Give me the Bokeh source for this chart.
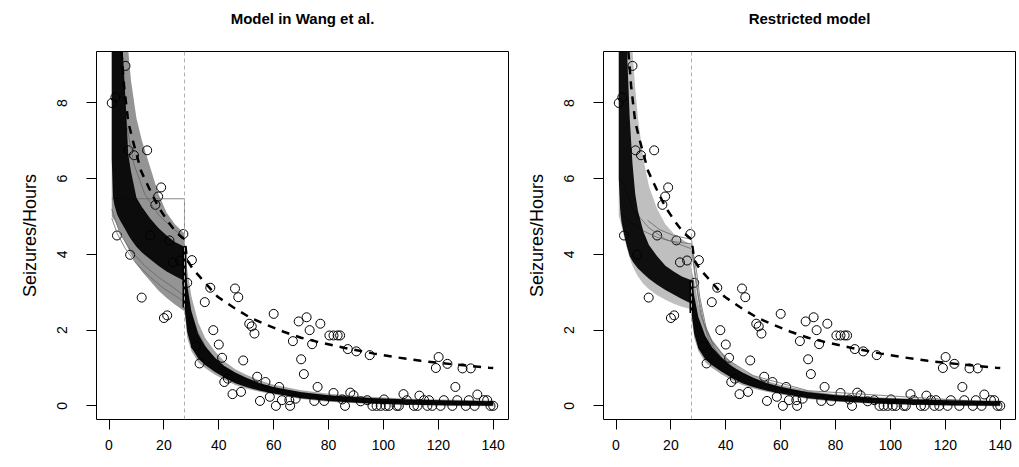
from bokeh.plotting import figure
from bokeh.layouts import row
from bokeh.models import Span, Title
from bokeh.embed import file_html
from bokeh.resources import INLINE

# ---------------- data ----------------
OBS_X = [1.0, 2.3, 6.0, 7.1, 9.1, 13.9, 19.0, 17.9, 16.9, 2.9, 15.0, 22.0, 27.1, 7.7, 11.9, 20.0, 21.2,
         23.3, 25.9, 28.5, 30.2, 36.9, 45.9, 47.1, 34.9, 38.0, 31.7, 40.0, 41.2, 33.0, 48.9, 51.1, 52.0,
         53.0, 60.0, 42.0, 43.3, 45.0, 48.1, 54.0, 57.0, 55.0, 58.6, 60.8, 62.0, 63.0, 65.7, 66.0, 68.0,
         67.0, 69.1, 70.0, 71.0, 72.0, 73.1, 74.0, 74.8, 76.0, 77.0, 78.4, 80.3, 81.8, 83.3, 84.2, 81.8,
         85.0, 86.0, 87.0, 87.9, 89.1, 90.1, 91.7, 94.1, 95.0, 96.0, 97.5, 99.0, 100.2, 100.8, 102.0,
         104.8, 105.6, 107.3, 108.5, 111.1, 112.4, 113.1, 114.8, 116.0, 116.6, 117.8, 119.1, 120.1, 120.8,
         122.0, 123.3, 125.1, 126.2, 126.9, 128.8, 130.0, 131.1, 131.8, 133.2, 134.2, 136.6, 137.8, 139.0,
         140.0]
OBS_Y = [8.00, 8.15, 8.98, 6.75, 6.62, 6.75, 5.77, 5.53, 5.31, 4.50, 4.50, 4.37, 4.54, 3.99, 2.86, 2.32, 2.39,
         3.79, 3.84, 3.25, 3.85, 3.12, 3.10, 2.87, 2.74, 2.00, 1.58, 1.62, 1.27, 1.12, 1.20, 2.17, 2.10,
         1.91, 2.43, 0.63, 0.72, 0.31, 0.37, 0.77, 0.63, 0.13, 0.24, 0.00, 0.50, 0.15, 0.15, 0.00, 0.19,
         1.71, 2.23, 1.23, 0.84, 2.34, 2.00, 1.63, 0.13, 0.50, 2.17, 0.13, 1.86, 1.86, 1.86, 1.86, 0.34,
         0.17, 0.00, 1.50, 0.35, 0.28, 1.44, 0.12, 0.15, 1.34, 0.00, 0.00, 0.00, 0.17, 0.00, 0.00,
         0.00, 0.00, 0.31, 0.15, 0.00, 0.00, 0.27, 0.15, 0.00, 0.15, 0.00, 1.00, 1.29, 0.00,
         0.15, 1.11, 0.00, 0.50, 0.15, 0.99, 0.00, 0.15, 0.99, 0.00, 0.30, 0.15, 0.15, 0.00,
         0.00]

# dashed reference curve
DASH_X = [4.5, 5.5, 7.0, 8.7, 11.7, 14.8, 18.0, 21.5, 24.5, 27.5, 28.5, 30.5, 34.8, 39.6, 45.1, 51.4,
          57.8, 63.9, 70.0, 76.0, 86.0, 96.6, 105.0, 113.6, 125.0, 138.4, 140.0]
DASH_Y = [9.36, 8.45, 7.50, 7.00, 6.20, 5.72, 5.25, 4.87, 4.58, 4.40, 3.85, 3.62, 3.27, 2.88, 2.61, 2.33,
          2.13, 1.95, 1.80, 1.69, 1.53, 1.38, 1.28, 1.19, 1.10, 1.01, 1.00]

BREAK = 27.5

# posterior-curve bundles: x nodes before and after the change point
PRE_X = [1, 1.5, 2, 3, 4, 5, 6, 7, 8, 10, 12, 15, 18, 21, 24, 27.5]
POST_X = [27.5, 28.5, 30, 32.5, 35, 38.5, 42, 46, 50, 55, 60, 70, 80, 95, 110, 125, 140]

# Model in Wang et al.
W_PRE_CORE_LO = [6.5, 5.5, 5.3, 5.05, 4.9, 4.78, 4.65, 4.52, 4.4, 4.2, 4.05, 3.87, 3.7, 3.55, 3.43, 3.3]
W_PRE_CORE_HI = [9.4, 9.4, 9.4, 9.4, 9.4, 9.4, 8.1, 6.65, 6.2, 5.5, 5.25, 4.95, 4.7, 4.5, 4.33, 4.2]
W_PRE_OUT_LO = [5.0, 4.95, 4.9, 4.75, 4.6, 4.45, 4.3, 4.15, 4.0, 3.75, 3.55, 3.3, 3.05, 2.85, 2.68, 2.5]
W_PRE_OUT_HI = [9.4, 9.4, 9.4, 9.4, 9.4, 9.4, 9.4, 9.4, 8.6, 7.6, 7.0, 6.3, 5.6, 5.1, 4.8, 4.55]
W_POST_CORE_LO = [2.6, 1.95, 1.55, 1.25, 1.08, 0.9, 0.75, 0.6, 0.5, 0.4, 0.33, 0.2, 0.13, 0.06, 0.03, 0.01, 0.0]
W_POST_CORE_HI = [3.9, 3.2, 2.5, 1.9, 1.58, 1.28, 1.05, 0.88, 0.74, 0.6, 0.5, 0.36, 0.28, 0.21, 0.17, 0.14, 0.12]
W_POST_OUT_LO = [2.5, 1.8, 1.45, 1.15, 1.0, 0.83, 0.69, 0.55, 0.46, 0.37, 0.3, 0.18, 0.11, 0.05, 0.02, 0.0, -0.01]
W_POST_OUT_HI = [4.1, 3.6, 2.9, 2.2, 1.8, 1.45, 1.18, 0.97, 0.82, 0.67, 0.56, 0.41, 0.32, 0.24, 0.19, 0.16, 0.14]
# visible individual curves among the bundle
W_STRAY_X = [[1, 27.5, 27.5, 29, 32, 36, 42, 50, 60, 80, 110, 140],
             [1, 3, 6, 10, 15, 20, 27.5],
             [4, 6, 9, 13, 18, 23, 27.5],
             [1, 4, 8, 13, 18, 23, 27.5]]
W_STRAY_Y = [[5.47, 5.47, 3.5, 2.7, 2.0, 1.45, 1.0, 0.65, 0.45, 0.25, 0.13, 0.08],
             [4.96, 4.55, 4.15, 3.75, 3.4, 3.1, 2.75],
             [9.36, 7.6, 6.4, 5.6, 5.05, 4.7, 4.45],
             [5.2, 4.55, 4.1, 3.7, 3.4, 3.15, 2.9]]

# Restricted model
R_PRE_CORE_LO = [6.0, 5.2, 4.85, 4.5, 4.2, 3.95, 3.82, 3.72, 3.63, 3.49, 3.36, 3.2, 3.06, 2.94, 2.82, 2.7]
R_PRE_CORE_HI = [9.4, 9.4, 9.4, 9.4, 9.4, 7.6, 6.4, 5.6, 5.15, 4.6, 4.25, 3.95, 3.7, 3.55, 3.42, 3.32]
R_PRE_OUT_LO = [5.0, 4.9, 4.75, 4.45, 4.15, 3.9, 3.7, 3.55, 3.42, 3.22, 3.08, 2.92, 2.8, 2.7, 2.62, 2.55]
R_PRE_OUT_HI = [9.4, 9.4, 9.4, 9.4, 9.4, 9.4, 9.4, 8.4, 7.6, 6.5, 5.8, 5.2, 4.8, 4.55, 4.4, 4.25]
R_POST_CORE_LO = [2.45, 1.9, 1.52, 1.23, 1.07, 0.9, 0.75, 0.6, 0.5, 0.4, 0.33, 0.2, 0.13, 0.06, 0.03, 0.01, 0.0]
R_POST_CORE_HI = [3.3, 2.9, 2.35, 1.85, 1.55, 1.27, 1.05, 0.88, 0.74, 0.6, 0.5, 0.36, 0.28, 0.21, 0.17, 0.14, 0.12]
R_POST_OUT_LO = [2.35, 1.8, 1.45, 1.15, 1.0, 0.83, 0.69, 0.55, 0.46, 0.37, 0.3, 0.18, 0.11, 0.05, 0.02, 0.0, -0.01]
R_POST_OUT_HI = [3.6, 3.3, 2.7, 2.1, 1.75, 1.42, 1.16, 0.96, 0.8, 0.66, 0.55, 0.4, 0.31, 0.23, 0.19, 0.16, 0.14]
R_STRAY_X = [[1.5, 5, 10, 15, 20, 27.5, 27.5, 29.3, 30.5, 33, 36, 40, 46, 55, 70, 100, 140],
             [2, 6, 12, 18, 27.5, 27.5, 29, 31, 34, 38, 44, 52, 65, 90, 140],
             [11.5, 16, 21, 27.5, 27.5, 28.5, 30, 32, 35, 40, 50, 70, 140]]
R_STRAY_Y = [[5.08, 4.85, 4.62, 4.45, 4.35, 4.28, 4.28, 3.58, 2.88, 2.0, 1.5, 1.15, 0.85, 0.55, 0.32, 0.14, 0.07],
             [6.0, 5.2, 4.7, 4.4, 4.15, 4.15, 3.3, 2.4, 1.7, 1.3, 0.95, 0.65, 0.4, 0.2, 0.07],
             [4.9, 4.65, 4.5, 4.4, 4.4, 3.7, 2.9, 2.2, 1.7, 1.25, 0.8, 0.4, 0.08]]

X_TICKS = [0, 20, 40, 60, 80, 100, 120, 140]
Y_TICKS = [0, 2, 4, 6, 8]
X_RANGE = (-4.56, 145.56)
Y_RANGE = (-0.36, 9.36)
FONT = "Liberation Sans"


def panel(title, pre_core, post_core, pre_out, post_out, stray_x, stray_y,
          spread_alpha, left_border, right_border):
    p = figure(frame_width=412, frame_height=368,
               min_border_left=left_border, min_border_right=right_border,
               min_border_top=51, min_border_bottom=48,
               x_range=X_RANGE, y_range=Y_RANGE,
               output_backend="svg", toolbar_location=None,
               background_fill_color="white", border_fill_color="white")
    p.grid.visible = False
    p.outline_line_color = "black"
    p.outline_line_alpha = 1
    p.outline_line_width = 1

    # title: a blank spacer next to the frame, then the bold title further out
    p.add_layout(Title(text=" ", text_font_size="2px", standoff=21), "above")
    p.add_layout(Title(text=title, align="center", text_font=FONT, text_font_size="15px",
                       text_font_style="bold", text_color="black", standoff=0), "above")

    for ax in (p.xaxis[0], p.yaxis[0]):
        ax.axis_line_color = None
        ax.major_tick_out = 10
        ax.major_tick_in = 0
        ax.minor_tick_line_color = None
        ax.major_tick_line_color = "black"
        ax.major_label_text_font = FONT
        ax.major_label_text_font_size = "14px"
        ax.major_label_text_color = "black"
    p.xaxis.ticker = X_TICKS
    p.yaxis.ticker = Y_TICKS
    p.xaxis.major_label_standoff = 10
    p.yaxis.major_label_orientation = "parallel"
    p.yaxis.major_label_standoff = 19
    p.yaxis.axis_label = "Seizures/Hours"
    p.yaxis.axis_label_text_font = FONT
    p.yaxis.axis_label_text_font_size = "18px"
    p.yaxis.axis_label_text_font_style = "normal"
    p.yaxis.axis_label_text_color = "black"
    p.yaxis.axis_label_standoff = 15

    # observations
    p.scatter(OBS_X, OBS_Y, marker="circle", size=9, fill_color=None,
              line_color="black", line_width=1)

    # bundle of posterior curves
    (lo_pre, hi_pre), (lo_post, hi_post) = pre_core, post_core
    (olo_pre, ohi_pre), (olo_post, ohi_post) = pre_out, post_out
    p.varea(x=PRE_X, y1=olo_pre, y2=ohi_pre, fill_color="black", fill_alpha=spread_alpha)
    p.varea(x=POST_X, y1=olo_post, y2=ohi_post, fill_color="black", fill_alpha=0.35)
    p.multi_line(stray_x, stray_y, line_color="#666666", line_width=1, line_alpha=0.8)
    p.varea(x=PRE_X, y1=lo_pre, y2=hi_pre, fill_color="black", fill_alpha=0.92)
    p.varea(x=POST_X, y1=lo_post, y2=hi_post, fill_color="black", fill_alpha=0.95)
    p.segment(x0=[PRE_X[-1]], y0=[lo_post[0]], x1=[POST_X[0]], y1=[hi_pre[-1]],
              line_color="black", line_width=4)

    # change point
    p.add_layout(Span(location=BREAK, dimension="height", line_color="#b0b0b0",
                      line_dash="4 3", line_width=1))
    # dashed reference curve
    p.line(DASH_X, DASH_Y, line_color="black", line_width=2.5, line_dash="8 7")
    return p


p1 = panel("Model in Wang et al.",
           (W_PRE_CORE_LO, W_PRE_CORE_HI), (W_POST_CORE_LO, W_POST_CORE_HI),
           (W_PRE_OUT_LO, W_PRE_OUT_HI), (W_POST_OUT_LO, W_POST_OUT_HI),
           W_STRAY_X, W_STRAY_Y, 0.42, 96, 1)
p2 = panel("Restricted model",
           (R_PRE_CORE_LO, R_PRE_CORE_HI), (R_POST_CORE_LO, R_POST_CORE_HI),
           (R_PRE_OUT_LO, R_PRE_OUT_HI), (R_POST_OUT_LO, R_POST_OUT_HI),
           R_STRAY_X, R_STRAY_Y, 0.25, 94, 4)

layout = row(p1, p2, spacing=0)
open("out.html", "w").write(file_html(layout, INLINE))
